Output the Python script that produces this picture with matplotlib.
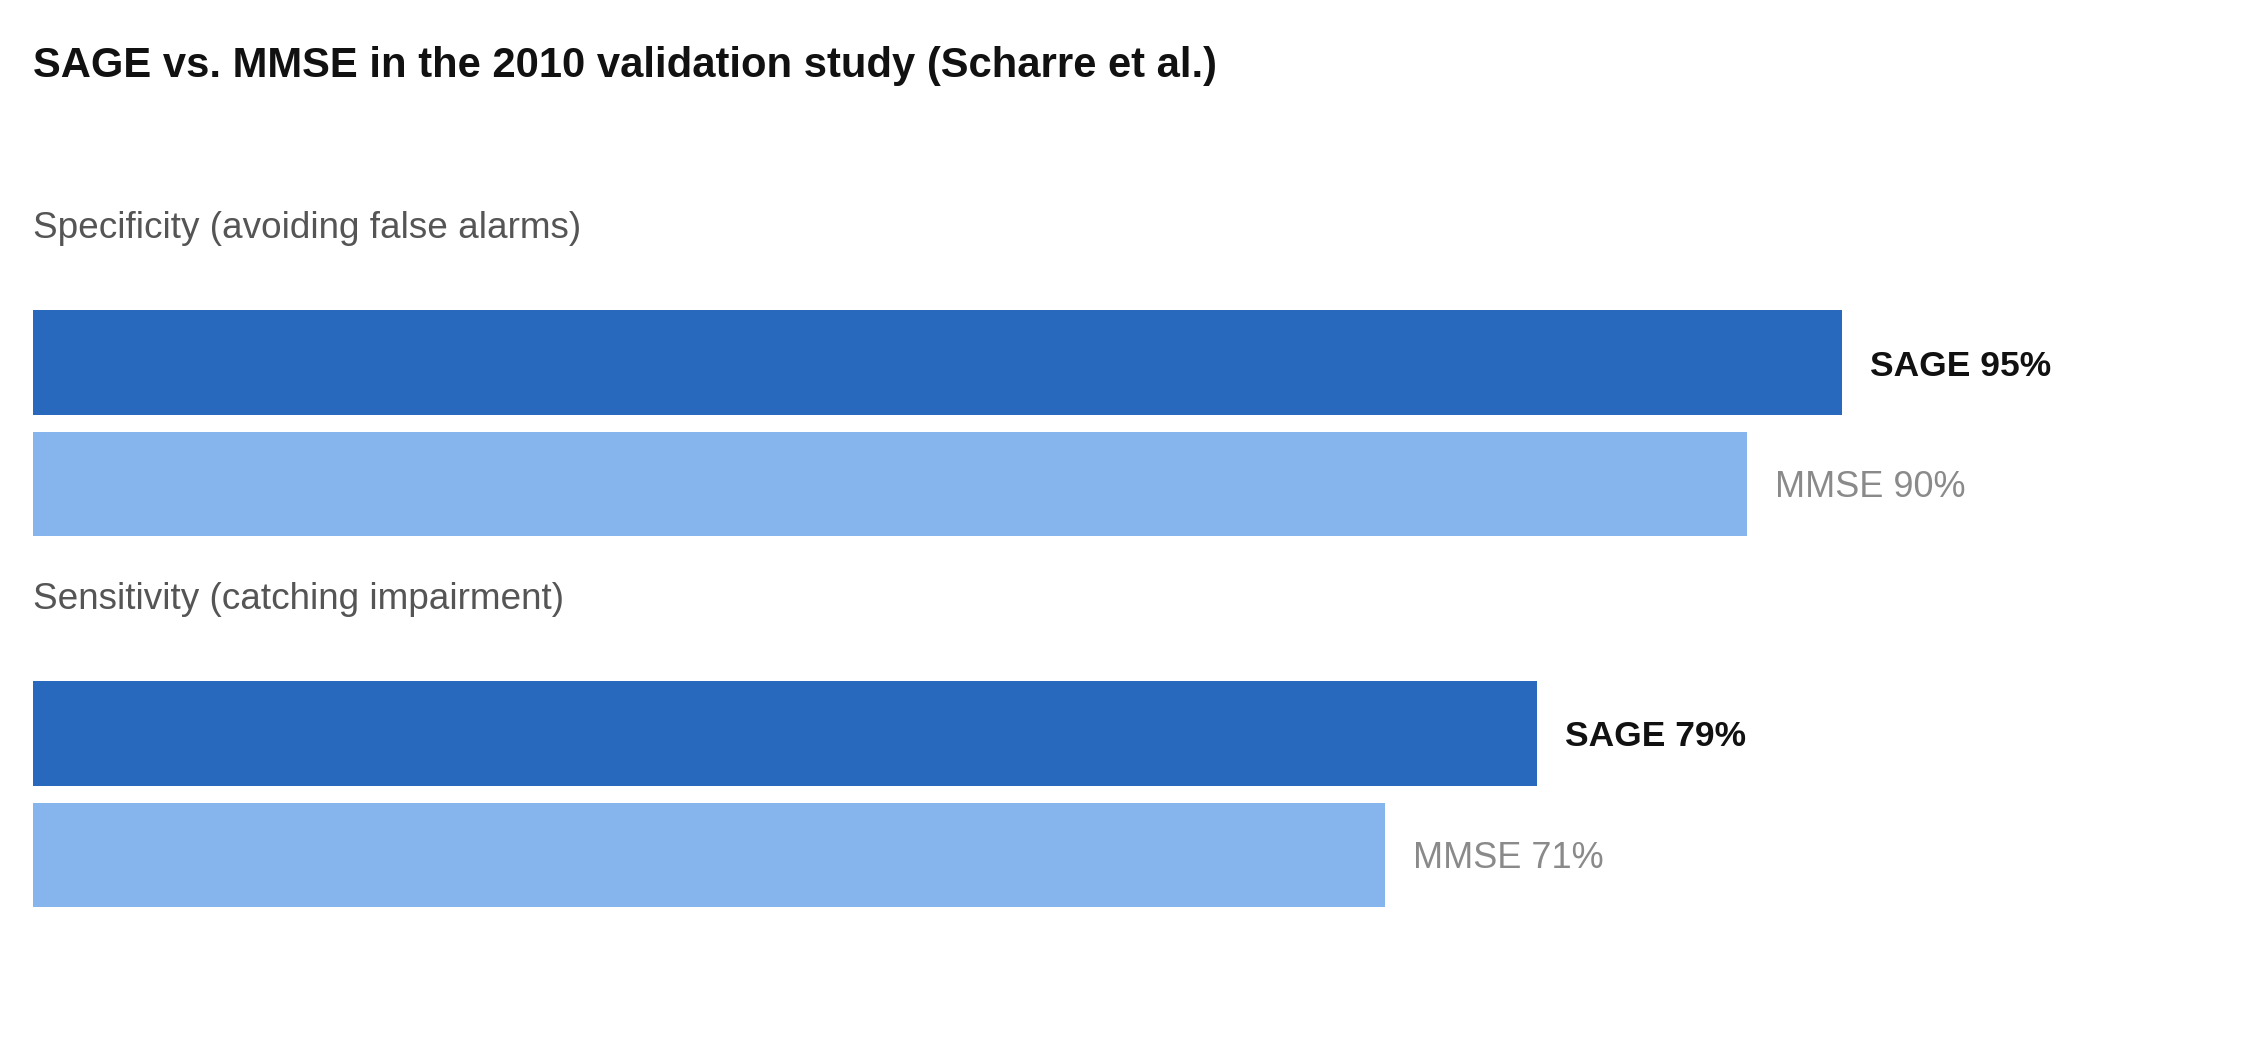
import matplotlib
matplotlib.use("Agg")
import matplotlib.pyplot as plt

title = "SAGE vs. MMSE in the 2010 validation study (Scharre et al.)"
categories = ["Specificity (avoiding false alarms)", "Sensitivity (catching impairment)"]
series_names = ["SAGE", "MMSE"]
sage_values = [95, 79]
mmse_values = [90, 71]

W, H = 2256, 1040
DPI = 100
plt.rcParams['font.family'] = ['Liberation Sans', 'DejaVu Sans']

fig = plt.figure(figsize=(W / DPI, H / DPI), dpi=DPI)
fig.patch.set_facecolor("white")
ax = fig.add_axes([0, 0, 1, 1])
ax.set_axis_off()

# x scale: 0% at 33 px, 100% at 1937 px
x0_px, x100_px = 33, 1937
px_per_unit = (x100_px - x0_px) / 100.0
ax.set_xlim(-x0_px / px_per_unit, (W - x0_px) / px_per_unit)
ax.set_ylim(H, 0)  # y in pixel-like units, top down

group_first = 362.5
group_step = 371
pair_step = 121.5
bar_h = 104.5
cat_label_offset = -124.5

colors = {"SAGE": "#2869BE", "MMSE": "#86B5EE"}
label_style = {
    "SAGE": dict(color="#111111", fontweight="bold", fontsize=25.5),
    "MMSE": dict(color="#8a8a8a", fontweight="normal", fontsize=26),
}

for i, cat in enumerate(categories):
    base = group_first + group_step * i
    ax.text(0, base + cat_label_offset, cat,
            fontsize=26.6, color="#555555", va="baseline", ha="left")
    for j, (name, vals) in enumerate([("SAGE", sage_values), ("MMSE", mmse_values)]):
        yc = base + pair_step * j
        v = vals[i]
        ax.barh(yc, v, height=bar_h, left=0, color=colors[name], edgecolor="none")
        ax.text(v + 28 / px_per_unit, yc + 13, f"{name} {v}%",
                va="baseline", ha="left", **label_style[name])

fig.text(33 / W, 1 - 77 / H, title, fontsize=30.1, fontweight="bold",
         color="#111111", va="baseline", ha="left")

fig.savefig("out.png", dpi=DPI, facecolor="white")
